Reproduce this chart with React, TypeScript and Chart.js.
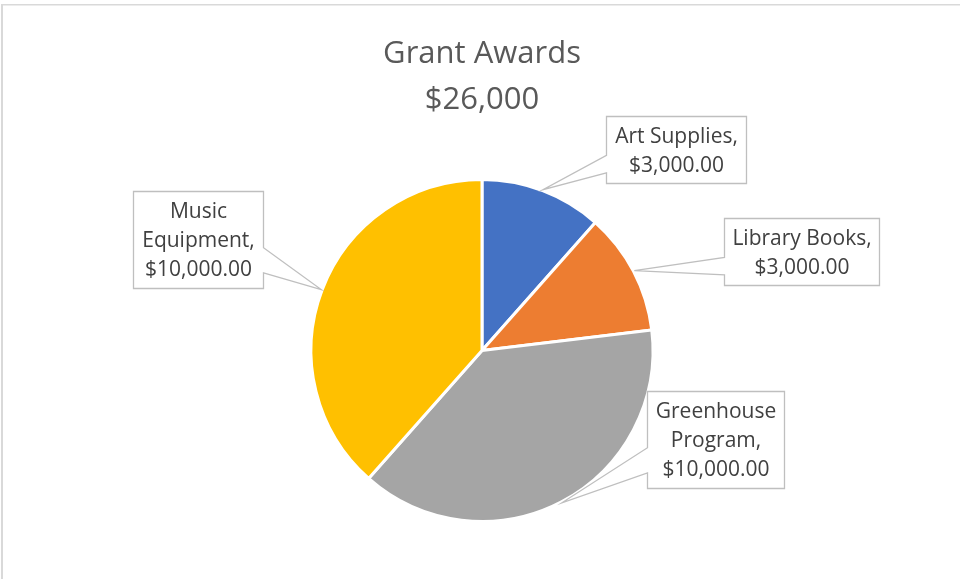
import React, { useEffect, useRef } from "react";
import { Chart, registerables } from "chart.js";

Chart.register(...registerables);

// ---- data ----
const categories = ["Art Supplies", "Library Books", "Greenhouse Program", "Music Equipment"];
const amounts = [3000, 3000, 10000, 10000];
const sliceColors = ["#4472C4", "#ED7D31", "#A5A5A5", "#FFC000"];
const titleLines = ["Grant Awards", "$26,000"];

// ---- callout layout (box centre offset from pie centre, box size) ----
const calloutOffsetsX = [194, 319.5, 233.5, -284];
const calloutOffsetsY = [-201.5, -99.5, 88.5, -111.5];
const calloutWidths = [140, 155, 137, 130];
const calloutHeights = [67, 67, 97, 97];

const LABEL_SIZE = 21;
const LABEL_FONT = LABEL_SIZE + 'px "Open Sans"';
const LABEL_LINE = 29;
const TITLE_SIZE = 31;
const TITLE_FONT = TITLE_SIZE + 'px "Open Sans"';

function fmtMoney(v: number) {
  return "$" + v.toLocaleString("en-US", { minimumFractionDigits: 2, maximumFractionDigits: 2 });
}

function wrap(ctx: CanvasRenderingContext2D, text: string, maxW: number): string[] {
  const words = text.split(" ");
  const lines: string[] = [];
  let cur = "";
  for (const w of words) {
    const test = cur ? cur + " " + w : w;
    if (ctx.measureText(test).width > maxW && cur) {
      lines.push(cur);
      cur = w;
    } else {
      cur = test;
    }
  }
  if (cur) lines.push(cur);
  return lines;
}

const calloutPlugin = {
  id: "excelCallouts",
  beforeDraw(chart: any) {
    const ctx: CanvasRenderingContext2D = chart.ctx;
    ctx.save();
    ctx.fillStyle = "#d9d9d9";
    ctx.fillRect(1, 4, chart.width, 1.5);
    ctx.fillRect(1, 4, 2, chart.height);
    ctx.restore();
  },
  afterDraw(chart: any) {
    const ctx: CanvasRenderingContext2D = chart.ctx;
    const meta = chart.getDatasetMeta(0);
    const arcs = meta.data;
    if (!arcs.length) return;
    const cx = arcs[0].x;

    // title
    ctx.save();
    ctx.font = TITLE_FONT;
    ctx.fillStyle = "#595959";
    ctx.textAlign = "center";
    ctx.textBaseline = "alphabetic";
    const titleCenters = [52, 98];
    titleLines.forEach((t, i) => {
      ctx.fillText(t, cx, titleCenters[i] + 0.357 * TITLE_SIZE);
    });
    ctx.restore();

    arcs.forEach((arc: any, i: number) => {
      const p = arc.getProps(["x", "y", "startAngle", "endAngle", "outerRadius"], true);
      const mid = (p.startAngle + p.endAngle) / 2;
      const r = p.outerRadius + 1;
      const tx = p.x + Math.cos(mid) * r;
      const ty = p.y + Math.sin(mid) * r;

      const w = calloutWidths[i];
      const h = calloutHeights[i];
      const bx = Math.round(p.x + calloutOffsetsX[i] - w / 2) + 0.5;
      const by = Math.round(p.y + calloutOffsetsY[i] - h / 2) + 0.5;
      const x1 = bx + w;
      const y1 = by + h;
      const b1 = by + 0.58 * h;
      const b2 = by + 0.84 * h;

      ctx.save();
      ctx.beginPath();
      if (tx < bx) {
        ctx.moveTo(bx, by);
        ctx.lineTo(x1, by);
        ctx.lineTo(x1, y1);
        ctx.lineTo(bx, y1);
        ctx.lineTo(bx, b2);
        ctx.lineTo(tx, ty);
        ctx.lineTo(bx, b1);
        ctx.closePath();
      } else {
        ctx.moveTo(bx, by);
        ctx.lineTo(x1, by);
        ctx.lineTo(x1, b1);
        ctx.lineTo(tx, ty);
        ctx.lineTo(x1, b2);
        ctx.lineTo(x1, y1);
        ctx.lineTo(bx, y1);
        ctx.closePath();
      }
      ctx.fillStyle = "#ffffff";
      ctx.fill();
      ctx.strokeStyle = "#bfbfbf";
      ctx.lineWidth = 1.3;
      ctx.lineJoin = "miter";
      ctx.stroke();

      ctx.font = LABEL_FONT;
      ctx.fillStyle = "#404040";
      ctx.textAlign = "center";
      ctx.textBaseline = "alphabetic";
      const lines = [...wrap(ctx, categories[i] + ",", w - 8), fmtMoney(amounts[i])];
      const centreX = bx + w / 2;
      const centreY = by + h / 2;
      const startY = centreY - ((lines.length - 1) * LABEL_LINE) / 2;
      lines.forEach((ln, k) => {
        ctx.fillText(ln, centreX, startY + k * LABEL_LINE + 0.357 * LABEL_SIZE);
      });
      ctx.restore();
    });
  },
};

export default function App() {
  const ref = useRef<HTMLCanvasElement | null>(null);

  useEffect(() => {
    if (!ref.current) return;
    const chart = new Chart(ref.current, {
      type: "pie",
      data: {
        labels: categories,
        datasets: [
          {
            data: amounts,
            backgroundColor: sliceColors,
            borderColor: "#ffffff",
            borderWidth: 3,
          },
        ],
      },
      options: {
        responsive: false,
        animation: false,
        layout: { padding: { top: 178, bottom: 56, left: 4, right: 0 } },
        plugins: {
          legend: { display: false },
          title: { display: false },
          tooltip: { enabled: false },
        },
      },
      plugins: [calloutPlugin],
    });
    return () => chart.destroy();
  }, []);

  return (
    <div style={{ position: "absolute", left: 0, top: 0, width: 960, height: 579, background: "#fff" }}>
      <canvas ref={ref} width={960} height={579} style={{ display: "block" }} />
    </div>
  );
}
